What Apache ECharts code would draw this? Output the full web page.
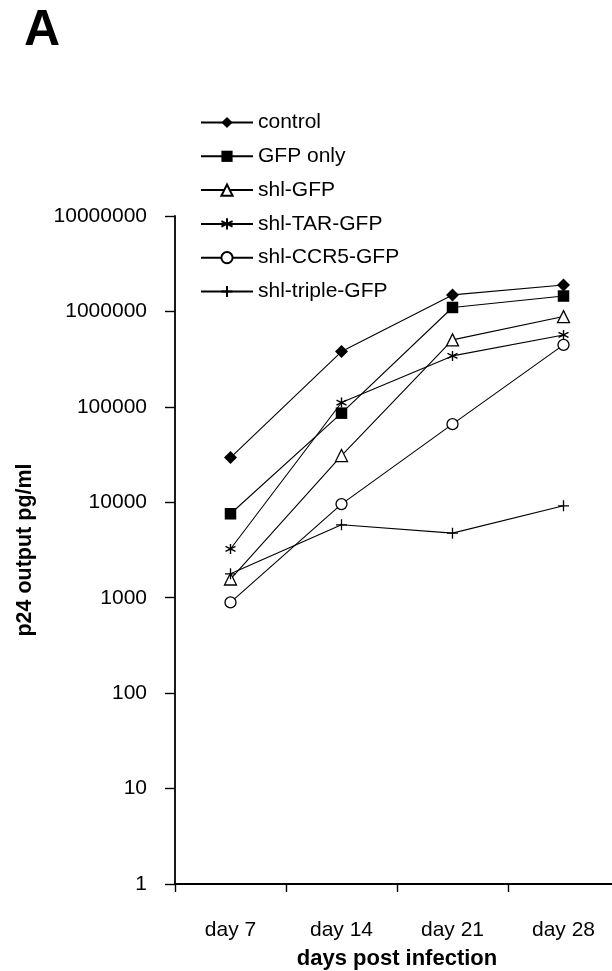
<!DOCTYPE html>
<html>
<head>
<meta charset="utf-8">
<script src="https://cdn.jsdelivr.net/npm/echarts@6/dist/echarts.min.js"></script>
<style>
  html, body { margin: 0; padding: 0; background: #fff; }
  #chart { width: 612px; height: 971px; }
</style>
</head>
<body>
<div id="chart"></div>
<script>
// Days post infection
const days = ['day 7', 'day 14', 'day 21', 'day 28'];

// p24 output (pg/ml) per construct
const control      = [29400, 380000, 1490000, 1890000];
const gfpOnly      = [7580, 85900, 1100000, 1450000];
const shlGFP       = [1570, 30900, 503000, 883000];
const shlTARGFP    = [3240, 111000, 342000, 567000];
const shlCCR5GFP   = [893, 9570, 65900, 446000];
const shlTripleGFP = [1780, 5810, 4750, 9190];

const seriesNames = ['control', 'GFP only', 'shl-GFP', 'shl-TAR-GFP', 'shl-CCR5-GFP', 'shl-triple-GFP'];

const FONT = 'Liberation Sans';

// stroked marker shapes
const asterisk = 'path://M0,-6L0,6M-5.2,-3L5.2,3M-5.2,3L5.2,-3';
const plus = 'path://M-6,0L6,0M0,-6L0,6';

function makeSeries(name, data, symbol, size, fill, borderW) {
  return {
    name: name,
    type: 'line',
    data: data,
    symbol: symbol,
    symbolSize: size,
    showAllSymbol: true,
    lineStyle: { color: '#000', width: 1.1 },
    itemStyle: { color: fill, borderColor: '#000', borderWidth: borderW },
    emphasis: { disabled: true },
    animation: false,
    z: 3
  };
}

const chart = echarts.init(document.getElementById('chart'), null, { renderer: 'canvas' });

chart.setOption({
  backgroundColor: '#fff',
  animation: false,
  title: {
    text: 'A',
    left: 19,
    top: 1,
    textStyle: { fontFamily: FONT, fontWeight: 'bold', fontSize: 50, color: '#000' }
  },
  legend: {
    orient: 'vertical',
    left: 195,
    top: 107,
    itemWidth: 52,
    itemHeight: 14,
    itemGap: 12.8,
    data: seriesNames,
    textStyle: { fontFamily: FONT, fontSize: 21, lineHeight: 21, color: '#000' },
    selectedMode: false
  },
  grid: {
    left: 175,
    top: 216,
    width: 444,
    height: 668,
    containLabel: false,
    outerBoundsMode: 'none'
  },
  xAxis: {
    type: 'category',
    data: days,
    boundaryGap: true,
    axisLine: { lineStyle: { color: '#000', width: 1.8 } },
    axisTick: { show: true, length: 8, lineStyle: { color: '#000', width: 1.4 } },
    axisLabel: { margin: 36, fontFamily: FONT, fontSize: 21, color: '#000' },
    name: 'days post infection',
    nameLocation: 'middle',
    nameGap: 64,
    nameTextStyle: { fontFamily: FONT, fontWeight: 'bold', fontSize: 22, color: '#000' },
    splitLine: { show: false }
  },
  yAxis: {
    type: 'log',
    logBase: 10,
    min: 1,
    max: 10000000,
    splitNumber: 7,
    axisLine: { show: true, lineStyle: { color: '#000', width: 1.8 } },
    axisTick: { show: true, length: 10, lineStyle: { color: '#000', width: 1.4 } },
    axisLabel: {
      margin: 28,
      fontFamily: FONT,
      fontSize: 21,
      color: '#000',
      formatter: function (v) { return String(Math.round(v)); }
    },
    splitLine: { show: false },
    name: 'p24 output pg/ml',
    nameLocation: 'middle',
    nameRotate: 90,
    nameGap: 139,
    nameTextStyle: { fontFamily: FONT, fontWeight: 'bold', fontSize: 21.5, color: '#000' }
  },
  series: [
    makeSeries('control', control, 'diamond', 13, '#000', 0),
    makeSeries('GFP only', gfpOnly, 'rect', 11.5, '#000', 0),
    makeSeries('shl-GFP', shlGFP, 'triangle', 12, '#fff', 1.3),
    makeSeries('shl-TAR-GFP', shlTARGFP, asterisk, 10, '#000', 1.4),
    makeSeries('shl-CCR5-GFP', shlCCR5GFP, 'circle', 11, '#fff', 1.3),
    makeSeries('shl-triple-GFP', shlTripleGFP, plus, 11, '#000', 1.3)
  ]
});
</script>
</body>
</html>
